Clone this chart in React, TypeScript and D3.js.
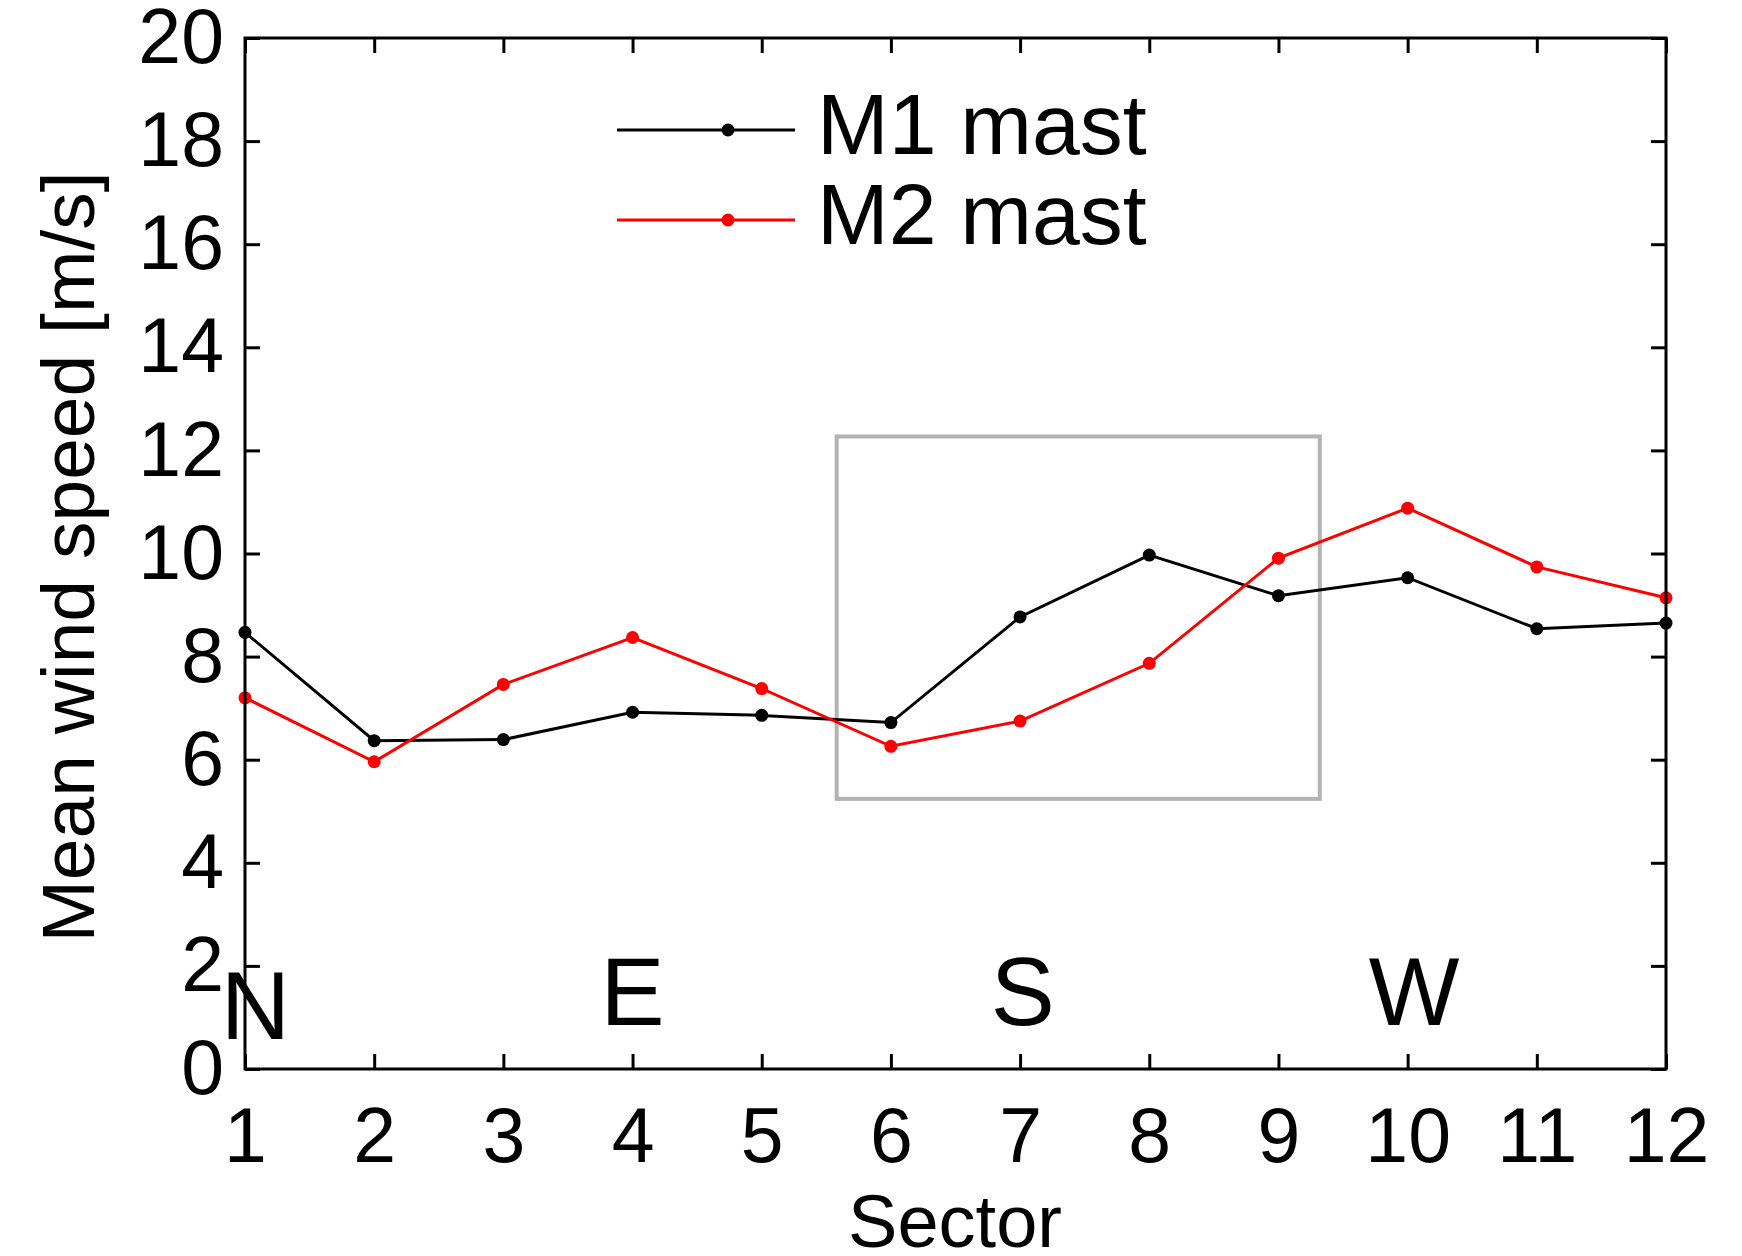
import React, { useRef, useEffect } from 'react';
import * as d3 from 'd3';

const sectors = [1, 2, 3, 4, 5, 6, 7, 8, 9, 10, 11, 12];
const m1Speed = [8.47, 6.37, 6.39, 6.92, 6.86, 6.72, 8.77, 9.97, 9.18, 9.53, 8.54, 8.65];
const m2Speed = [7.2, 5.96, 7.46, 8.37, 7.38, 6.26, 6.75, 7.87, 9.91, 10.88, 9.74, 9.14];
const yTicks = [0, 2, 4, 6, 8, 10, 12, 14, 16, 18, 20];
const compassLabels = ['N', 'E', 'S', 'W'];
const compassX = [1.08, 4.0, 7.02, 10.05];
const compassY = [0.58, 0.85, 0.85, 0.85];
// highlighted region: [x0, x1, y0, y1]
const boxRegion = [5.58, 9.32, 5.24, 12.27];
const seriesNames = ['M1 mast', 'M2 mast'];
const seriesColors = ['#000000', '#ff0000'];

export default function App() {
  const ref = useRef(null);

  useEffect(() => {
    const svg = d3.select(ref.current);
    svg.selectAll('*').remove();

    const width = 1742;
    const height = 1256;
    const margin = { top: 38, right: 76, bottom: 187, left: 245 };
    const font = '"Liberation Sans", Arial, sans-serif';

    const x = d3.scaleLinear().domain([1, 12]).range([margin.left, width - margin.right]);
    const y = d3.scaleLinear().domain([0, 20]).range([height - margin.bottom, margin.top]);

    const g = svg.append('g');

    // gray region box
    g.append('rect')
      .attr('x', x(boxRegion[0]))
      .attr('y', y(boxRegion[3]))
      .attr('width', x(boxRegion[1]) - x(boxRegion[0]))
      .attr('height', y(boxRegion[2]) - y(boxRegion[3]))
      .attr('fill', 'none')
      .attr('stroke', '#b3b3b3')
      .attr('stroke-width', 4);

    // lines
    const series = [m1Speed, m2Speed];
    series.forEach((vals, i) => {
      const line = d3.line<number>().x((d, j) => x(sectors[j])).y(d => y(d));
      g.append('path')
        .datum(vals)
        .attr('d', line)
        .attr('fill', 'none')
        .attr('stroke', seriesColors[i])
        .attr('stroke-width', 3);
      g.selectAll('.dot' + i)
        .data(vals)
        .enter()
        .append('circle')
        .attr('cx', (d, j) => x(sectors[j]))
        .attr('cy', d => y(d))
        .attr('r', 6.5)
        .attr('fill', seriesColors[i]);
    });

    // axes frame
    const plotH = y(0) - y(20);
    const plotW = x(12) - x(1);
    const tickLen = 15;

    const axisStyle = (sel, noText) => {
      sel.select('.domain').remove();
      sel.selectAll('line').attr('stroke', '#000').attr('stroke-width', 3);
      if (noText) sel.selectAll('text').remove();
      else sel.selectAll('text').attr('font-family', font).attr('font-size', 77).attr('fill', '#000');
    };

    g.append('g')
      .attr('transform', `translate(0,${y(0)})`)
      .call(d3.axisBottom(x).tickValues(sectors).tickFormat(d3.format('d')).tickSize(-tickLen).tickPadding(38))
      .call(s => axisStyle(s, false))
      .selectAll('text')
      .attr('dy', '0.71em');

    g.append('g')
      .attr('transform', `translate(0,${y(20)})`)
      .call(d3.axisTop(x).tickValues(sectors).tickSize(-tickLen))
      .call(s => axisStyle(s, true));

    g.append('g')
      .attr('transform', `translate(${x(1)},0)`)
      .call(d3.axisLeft(y).tickValues(yTicks).tickFormat(d3.format('d')).tickSize(-tickLen).tickPadding(21))
      .call(s => axisStyle(s, false));

    g.append('g')
      .attr('transform', `translate(${x(12)},0)`)
      .call(d3.axisRight(y).tickValues(yTicks).tickSize(-tickLen))
      .call(s => axisStyle(s, true));

    g.append('rect')
      .attr('x', x(1))
      .attr('y', y(20))
      .attr('width', plotW)
      .attr('height', plotH)
      .attr('fill', 'none')
      .attr('stroke', '#000')
      .attr('stroke-width', 3);

    // compass letters
    g.selectAll('.compass')
      .data(compassLabels)
      .enter()
      .append('text')
      .attr('x', (d, i) => x(compassX[i]))
      .attr('y', (d, i) => y(compassY[i]))
      .attr('text-anchor', 'middle')
      .attr('font-family', font)
      .attr('font-size', 96)
      .text(d => d);

    // axis titles
    g.append('text')
      .attr('x', 955)
      .attr('y', 1247)
      .attr('text-anchor', 'middle')
      .attr('font-family', font)
      .attr('font-size', 74)
      .text('Sector');

    g.append('text')
      .attr('transform', 'translate(94,557) rotate(-90)')
      .attr('text-anchor', 'middle')
      .attr('font-family', font)
      .attr('font-size', 75)
      .text('Mean wind speed [m/s]');

    // legend
    const legend = g.append('g');
    seriesNames.forEach((name, i) => {
      const ly = 130 + i * 90;
      legend.append('line')
        .attr('x1', 617).attr('x2', 795)
        .attr('y1', ly).attr('y2', ly)
        .attr('stroke', seriesColors[i])
        .attr('stroke-width', 3);
      legend.append('circle')
        .attr('cx', 728).attr('cy', ly).attr('r', 6.5)
        .attr('fill', seriesColors[i]);
      legend.append('text')
        .attr('x', 817)
        .attr('y', ly + 24)
        .attr('font-family', font)
        .attr('font-size', 86)
        .text(name);
    });
  });

  return (
    <svg
      width={1742}
      height={1256}
      ref={ref}
      style={{ position: 'absolute', left: 0, top: 0, background: '#fff' }}
    />
  );
}
